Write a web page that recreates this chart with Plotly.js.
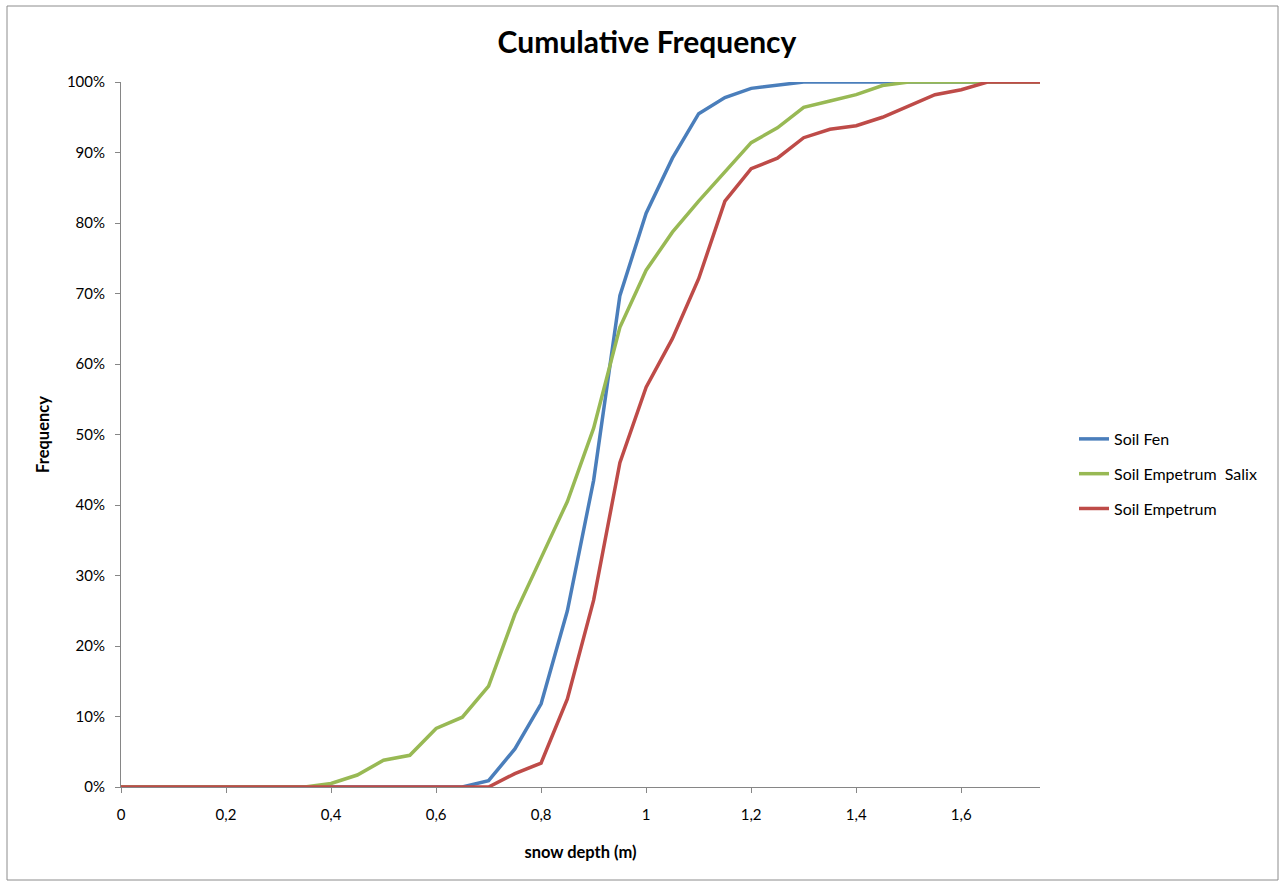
<!DOCTYPE html>
<html>
<head>
<meta charset="utf-8">
<script src="https://cdn.plot.ly/plotly-3.0.1.min.js"></script>
<style>html,body{margin:0;padding:0;background:#fff;}#chart{width:1285px;height:886px;}</style>
</head>
<body>
<div id="chart"></div>
<script>
const snowDepth = [0,0.05,0.1,0.15,0.2,0.25,0.3,0.35,0.4,0.45,0.5,0.55,0.6,0.65,0.7,0.75,0.8,0.85,0.9,0.95,1.0,1.05,1.1,1.15,1.2,1.25,1.3,1.35,1.4,1.45,1.5,1.55,1.6,1.65,1.7,1.75];
const soilFen = [0,0,0,0,0,0,0,0,0,0,0,0,0,0,0.9,5.4,11.8,25,43.5,69.7,81.4,89.2,95.5,97.8,99.1,99.6,100,100,100,100,100,100,100,100,100,100];
const soilEmpetrumSalix = [0,0,0,0,0,0,0,0,0.5,1.7,3.8,4.5,8.3,9.9,14.3,24.5,32.5,40.5,50.9,65.2,73.3,78.7,83.1,87.2,91.4,93.5,96.4,97.3,98.2,99.5,100,100,100,100,100,100];
const soilEmpetrum = [0,0,0,0,0,0,0,0,0,0,0,0,0,0,0,1.9,3.4,12.5,26.5,46.0,56.7,63.6,72.1,83.1,87.7,89.2,92.1,93.3,93.8,95.0,96.6,98.2,98.9,100,100,100];
const seriesNames = ["Soil Fen","Soil Empetrum  Salix","Soil Empetrum"];
const seriesColors = ["#4a7ebb","#98b954","#be4b48"];
const xTicks = [0,0.2,0.4,0.6,0.8,1,1.2,1.4,1.6];
const xTickLabels = ["0","0,2","0,4","0,6","0,8","1","1,2","1,4","1,6"];
const yTicks = [0,10,20,30,40,50,60,70,80,90,100];
const yTickLabels = ["0%","10%","20%","30%","40%","50%","60%","70%","80%","90%","100%"];

const allSeries = [soilFen, soilEmpetrumSalix, soilEmpetrum];
const traces = allSeries.map((ys,i)=>({
  x: snowDepth, y: ys, type:'scatter', mode:'lines', name: seriesNames[i],
  legendgroup: 'g'+i,
  line:{color:seriesColors[i], width:3.5}, hoverinfo:'x+y'
}));

const F = 'Lato, "Open Sans", sans-serif';
const layout = {
  width:1285, height:886,
  margin:{l:121, r:245, t:82, b:99, autoexpand:false},
  paper_bgcolor:'#fff', plot_bgcolor:'#fff',
  font:{family:F, size:15, color:'#000'},
  title:{text:'<b>Cumulative Frequency</b>', font:{family:F, size:30, color:'#000'}, x:647/1285, xanchor:'center', y:1-42/886, yanchor:'middle', xref:'container'},
  xaxis:{range:[0,1.75], tickvals:xTicks, ticktext:xTickLabels, showgrid:false, zeroline:false,
    showline:true, linecolor:'#868686', linewidth:1, ticks:'outside', ticklen:5, tickcolor:'#868686',
    ticklabelstandoff:9,
    tickfont:{family:F,size:15}, title:{text:'<b>snow depth (m)</b>', font:{family:F,size:16.5}, standoff:24}},
  yaxis:{range:[0,100], tickvals:yTicks, ticktext:yTickLabels, showgrid:false, zeroline:false,
    showline:true, linecolor:'#868686', linewidth:1, ticks:'outside', ticklen:5, tickcolor:'#868686',
    ticklabelstandoff:7,
    tickfont:{family:F,size:15}, title:{text:'<b>Frequency</b>', font:{family:F,size:16.5}, standoff:13}},
  legend:{x:1.037, xanchor:'left', y:0.444, yanchor:'middle', font:{family:F,size:16},
    traceorder:'grouped', tracegroupgap:11, itemwidth:30, bgcolor:'rgba(0,0,0,0)'},
  showlegend:true,
  shapes:[{type:'rect', xref:'paper', yref:'paper',
    x0:(7-121)/919, x1:(1278-121)/919, y0:(787-880)/705, y1:(787-6)/705,
    line:{color:'#8c8c8c', width:1}, fillcolor:'rgba(0,0,0,0)', layer:'below'}]
};
Plotly.newPlot('chart', traces, layout, {displayModeBar:false, staticPlot:true});
</script>
</body>
</html>
